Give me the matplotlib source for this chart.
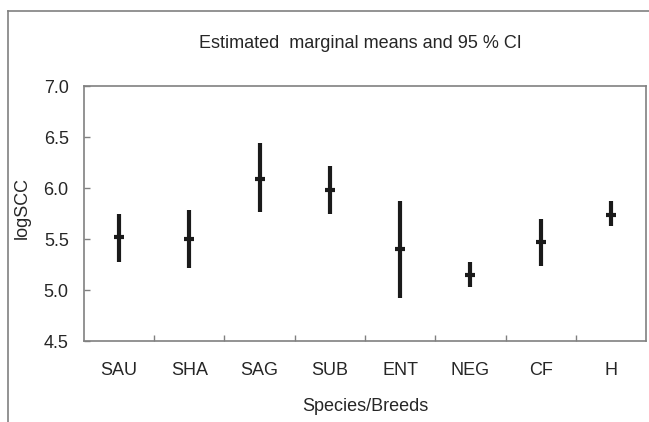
import numpy as np
import matplotlib.pyplot as plt
from matplotlib.lines import Line2D

# Werte
breeds = ["SAU", "SHA", "SAG", "SUB", "ENT", "NEG", "CF", "H"]
means = [5.52, 5.50, 6.09, 5.98, 5.40, 5.15, 5.47, 5.74]
ci_low = [5.27, 5.22, 5.76, 5.75, 4.92, 5.03, 5.24, 5.63]
ci_high = [5.75, 5.78, 6.44, 6.22, 5.87, 5.27, 5.70, 5.87]

plt.rcParams["font.family"] = ["Liberation Sans", "DejaVu Sans"]
txt = "#262626"

fig = plt.figure(figsize=(6.49, 4.22), dpi=100)
ax = fig.add_axes([0.1294, 0.1919, 0.8660, 0.6043])

x = np.arange(len(breeds))
means = np.array(means)
yerr = [means - np.array(ci_low), np.array(ci_high) - means]

ax.errorbar(x, means, yerr=yerr, fmt="none", ecolor="#1a1a1a", elinewidth=3.0, capsize=0)
ax.plot(x, means, linestyle="none", marker="_", markersize=7, markeredgewidth=3.0, color="#1a1a1a")

ax.set_xlim(-0.5, len(breeds) - 0.5)
ax.set_ylim(4.5, 7.0)
ax.set_yticks([4.5, 5.0, 5.5, 6.0, 6.5, 7.0])
ax.set_yticklabels(["4.5", "5.0", "5.5", "6.0", "6.5", "7.0"])
ax.set_xticks(x[:-1] + 0.5)
ax.set_xticklabels([])
ax.set_xticks(x, minor=True)
ax.set_xticklabels(breeds, minor=True)

ax.tick_params(axis="y", direction="in", length=4, width=1, color="#808080", pad=11,
               labelsize=13, labelcolor=txt)
ax.tick_params(axis="x", which="major", direction="in", length=4, width=1, color="#808080")
ax.tick_params(axis="x", which="minor", length=0, pad=15, labelsize=13, labelcolor=txt)

for s in ax.spines.values():
    s.set_color("#808080")
    s.set_linewidth(1.2)

ax.set_ylabel("logSCC", fontsize=13, color=txt)
ax.yaxis.set_label_coords(-0.094, 0.52)
ax.set_xlabel("Species/Breeds", fontsize=13, color=txt)
ax.xaxis.set_label_coords(0.5, -0.225)
fig.text(0.555, 0.898, "Estimated  marginal means and 95 % CI", ha="center", va="center",
         fontsize=13, color=txt)

# äußerer Rahmen (nur links und oben sichtbar)
fig.add_artist(Line2D([0.013, 0.013], [0.0, 0.975], color="#808080", lw=1.2))
fig.add_artist(Line2D([0.013, 1.0], [0.975, 0.975], color="#808080", lw=1.2))

plt.savefig("out.png", dpi=100)
